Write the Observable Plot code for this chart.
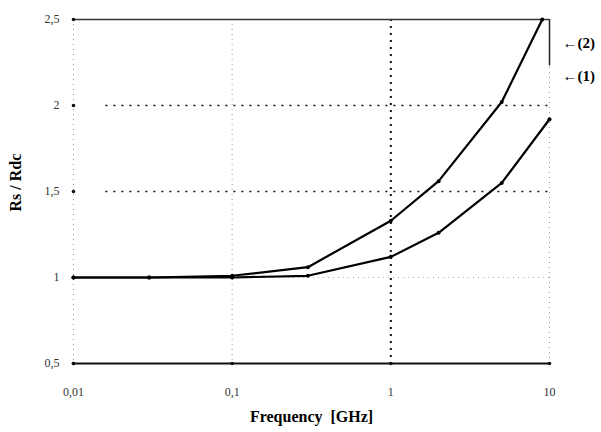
<!DOCTYPE html>
<html><head><meta charset="utf-8">
<script src="https://cdn.jsdelivr.net/npm/d3@7"></script>
<script src="https://cdn.jsdelivr.net/npm/@observablehq/plot@0.6"></script>
<style>
body{margin:0;background:#fff;}
svg{font-family:"Liberation Serif",serif;}
</style></head><body><div id="chart"></div>
<script>
const freqUpper = [0.01, 0.03, 0.1, 0.3, 1, 2, 5, 9];
const ratioUpper = [1.0, 1.0, 1.01, 1.06, 1.33, 1.56, 2.02, 2.5];
const freqLower = [0.01, 0.03, 0.1, 0.3, 1, 2, 5, 10];
const ratioLower = [1.0, 1.0, 1.0, 1.01, 1.12, 1.26, 1.55, 1.92];
const xTicks = [0.01, 0.1, 1, 10];
const xTickLabels = ["0,01", "0,1", "1", "10"];
const yTicks = [0.5, 1, 1.5, 2, 2.5];
const yTickLabels = ["0,5", "1", "1,5", "2", "2,5"];
const seriesLabels = ["(2)", "(1)"];

const upper = freqUpper.map((f, i) => ({f, r: ratioUpper[i]}));
const lower = freqLower.map((f, i) => ({f, r: ratioLower[i]}));

const chart = Plot.plot({
  width: 601, height: 432,
  marginLeft: 73, marginRight: 52, marginTop: 19, marginBottom: 69,
  style: {fontFamily: "Liberation Serif, serif", background: "#fff"},
  x: {type: "log", domain: [0.01, 10], ticks: xTicks, tickFormat: (d) => xTickLabels[xTicks.indexOf(d)] ?? "", tickSize: 0, tickPadding: 24, label: null},
  y: {domain: [0.5, 2.5], ticks: yTicks, tickFormat: (d) => yTickLabels[yTicks.indexOf(d)] ?? "", tickSize: 0, tickPadding: 14, label: null},
  marks: [
    Plot.ruleX([0.01, 0.1], {stroke: "#999", strokeWidth: 1, strokeDasharray: "1,4"}),
    Plot.ruleX([10], {y1: 0.5, y2: 2.23, stroke: "#999", strokeWidth: 1, strokeDasharray: "1,4"}),
    Plot.ruleX([10], {y1: 2.23, y2: 2.5, stroke: "#222", strokeWidth: 1.5}),
    Plot.ruleY([1], {stroke: "#aaa", strokeWidth: 1, strokeDasharray: "1,4"}),
    Plot.ruleX([1], {stroke: "#111", strokeWidth: 2, strokeDasharray: "2,5"}),
    Plot.ruleY([2, 1.5], {x1: 0.016, x2: 10, stroke: "#111", strokeWidth: 1.5, strokeDasharray: "2,6"}),
    Plot.ruleY([2.5], {stroke: "#333", strokeWidth: 1.5}),
    Plot.ruleY([0.5], {stroke: "#111", strokeWidth: 1.8}),
    Plot.dot(yTicks.map(y => ({y})), {x: () => 0.01, y: "y", r: 1.8, fill: "#111"}),
    Plot.dot(xTicks.map(x => ({x})), {x: "x", y: () => 0.5, r: 1.8, fill: "#111"}),
    Plot.line(upper, {x: "f", y: "r", stroke: "#000", strokeWidth: 2.2}),
    Plot.line(lower, {x: "f", y: "r", stroke: "#000", strokeWidth: 2.2}),
    Plot.dot(upper, {x: "f", y: "r", r: 2, fill: "#000"}),
    Plot.dot(lower, {x: "f", y: "r", r: 2, fill: "#000"}),
    Plot.text([seriesLabels[0]], {x: () => 10, y: () => 2.36, text: (d) => "\u2190" + d, dx: 13, textAnchor: "start", fontWeight: "bold", fontSize: 15, clip: false}),
    Plot.text([seriesLabels[1]], {x: () => 10, y: () => 2.17, text: (d) => "\u2190" + d, dx: 13, textAnchor: "start", fontWeight: "bold", fontSize: 15, clip: false}),
    Plot.text(["Frequency  [GHz]"], {frameAnchor: "bottom", dy: 58, fontWeight: "bold", fontSize: 16, clip: false}),
    Plot.text(["Rs / Rdc"], {frameAnchor: "left", dx: -58, dy: 20, rotate: -90, fontWeight: "bold", fontSize: 16, clip: false})
  ]
});
chart.querySelectorAll('[aria-label="x-axis tick label"] text, [aria-label="y-axis tick label"] text').forEach(t => { t.setAttribute("fill", "#333"); });
chart.querySelectorAll('[aria-label$="tick label"]').forEach(g => g.setAttribute("font-size", 12));
document.getElementById("chart").appendChild(chart);
</script></body></html>
